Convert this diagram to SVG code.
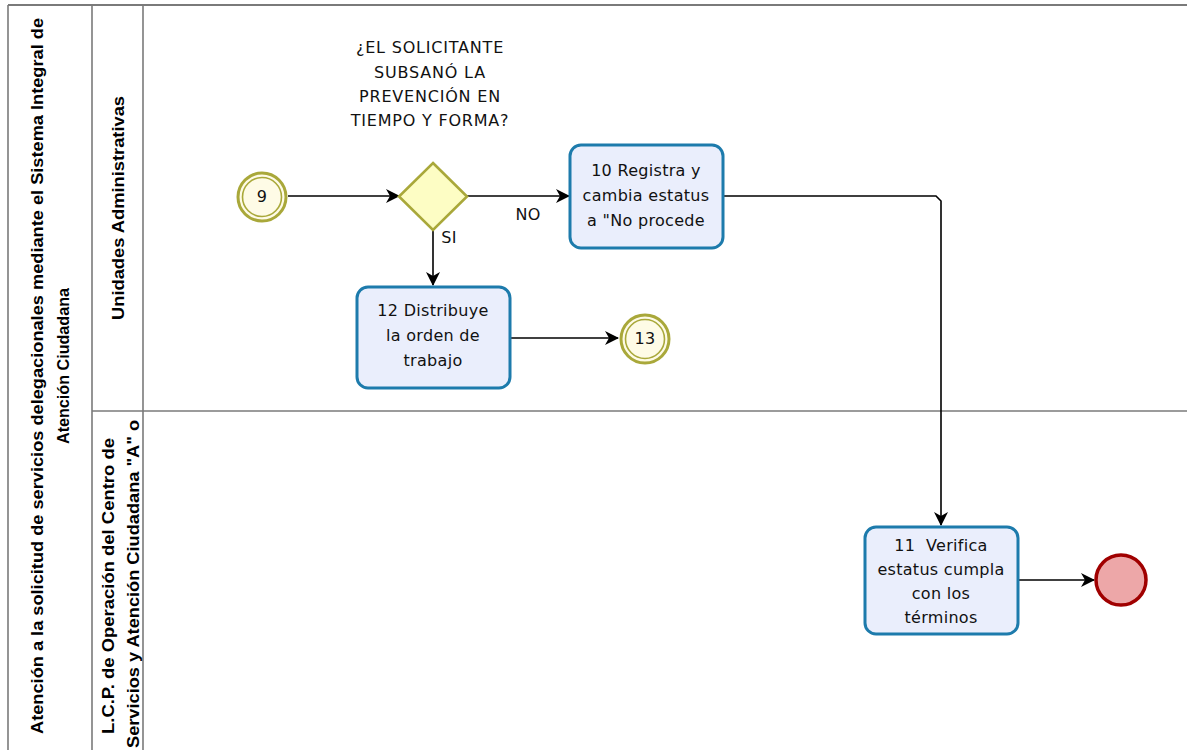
<svg xmlns="http://www.w3.org/2000/svg" width="1187" height="750" viewBox="0 0 1187 750">
<defs>
<marker id="arr" viewBox="0 0 14 14" refX="13" refY="7" markerWidth="14" markerHeight="14" markerUnits="userSpaceOnUse" orient="auto">
<path d="M0,0 L14,7 L0,14 L4,7 Z" fill="#000"/>
</marker>
<style>
.frame{fill:none;stroke:#7a7a7a;stroke-width:1.6}
.hdr{font-family:"Liberation Sans",Arial,sans-serif;font-weight:bold;font-size:17px;fill:#000}
.task rect{fill:#eaeefc;stroke:#1d7bac;stroke-width:3}
.t{font-family:"DejaVu Sans",Verdana,sans-serif;font-size:16px;letter-spacing:0.3px;fill:#111;text-anchor:middle}
.q{letter-spacing:0.8px}
.ev{fill:#fefbe6;stroke:#a9a83a}
.conn path{fill:none;stroke:#000;stroke-width:1.6}
</style>
</defs>
<rect width="1187" height="750" fill="#fff"/>
<g id="pool">
<line x1="8" y1="5" x2="1187" y2="5" stroke="#7a7a7a" stroke-width="2.2"/>
<line class="frame" x1="8" y1="5" x2="8" y2="750"/>
<line class="frame" x1="92" y1="5" x2="92" y2="750"/>
<line class="frame" x1="143" y1="5" x2="143" y2="750"/>
<line class="frame" x1="92" y1="411" x2="1187" y2="411"/>
<text class="hdr" transform="translate(43,376) rotate(-90)" text-anchor="middle" textLength="716" lengthAdjust="spacingAndGlyphs">Atención a la solicitud de servicios delegacionales mediante el Sistema Integral de</text>
<text class="hdr" transform="translate(69,366) rotate(-90)" text-anchor="middle" textLength="156" lengthAdjust="spacingAndGlyphs">Atención Ciudadana</text>
</g>
<g id="lane1">
<text class="hdr" transform="translate(124,208) rotate(-90)" text-anchor="middle" textLength="224" lengthAdjust="spacingAndGlyphs">Unidades Administrativas</text>
</g>
<g id="lane2">
<text class="hdr" transform="translate(114,586) rotate(-90)" text-anchor="middle" textLength="296" lengthAdjust="spacingAndGlyphs">L.C.P. de Operación del Centro de</text>
<text class="hdr" transform="translate(139,584) rotate(-90)" text-anchor="middle" textLength="328" lengthAdjust="spacingAndGlyphs">Servicios y Atención Ciudadana "A" o</text>
</g>
<g class="conn" id="connectors">
<path d="M288,196 H399" marker-end="url(#arr)"/>
<path d="M467,196 H569" marker-end="url(#arr)"/>
<path d="M433,230 V285" marker-end="url(#arr)"/>
<path d="M510,338 H618" marker-end="url(#arr)"/>
<path d="M724,196 H936 L941,201 V525" marker-end="url(#arr)"/>
<path d="M1018,580 H1094" marker-end="url(#arr)"/>
<text class="t" x="528" y="220" font-size="15">NO</text>
<text class="t" x="449" y="243" font-size="15">SI</text>
</g>
<g id="start9">
<circle class="ev" cx="262" cy="197" r="24" stroke-width="3"/>
<circle cx="262" cy="197" r="19.5" fill="none" stroke="#a9a83a" stroke-width="1.6"/>
<text class="t" x="262" y="202" font-size="15">9</text>
</g>
<g id="gateway">
<path d="M433,163 L467,196.5 L433,230 L399,196.5 Z" fill="#fdfdc4" stroke="#a9a83a" stroke-width="2.6"/>
<text class="t q" x="430" y="53">¿EL SOLICITANTE</text>
<text class="t q" x="430" y="78">SUBSANÓ LA</text>
<text class="t q" x="430" y="102">PREVENCIÓN EN</text>
<text class="t q" x="430" y="126">TIEMPO Y FORMA?</text>
</g>
<g id="task10" class="task">
<rect x="570" y="145" width="153" height="103" rx="11"/>
<text class="t" x="646" y="176">10 Registra y</text>
<text class="t" x="646" y="201">cambia estatus</text>
<text class="t" x="646" y="226">a "No procede</text>
</g>
<g id="task12" class="task">
<rect x="357" y="287" width="153" height="101" rx="11"/>
<text class="t" x="433" y="316">12 Distribuye</text>
<text class="t" x="433" y="341">la orden de</text>
<text class="t" x="433" y="366">trabajo</text>
</g>
<g id="event13">
<circle class="ev" cx="645" cy="339" r="24" stroke-width="3"/>
<circle cx="645" cy="339" r="19.5" fill="none" stroke="#a9a83a" stroke-width="1.6"/>
<text class="t" x="645" y="344" font-size="15">13</text>
</g>
<g id="task11" class="task">
<rect x="865" y="527" width="153" height="107" rx="11"/>
<text class="t" x="941" y="551" style="white-space:pre">11  Verifica</text>
<text class="t" x="941" y="575">estatus cumpla</text>
<text class="t" x="941" y="599">con los</text>
<text class="t" x="941" y="623">términos</text>
</g>
<g id="end">
<circle cx="1121" cy="580" r="25" fill="#eda7a8" stroke="#a00000" stroke-width="3.5"/>
</g>
</svg>
